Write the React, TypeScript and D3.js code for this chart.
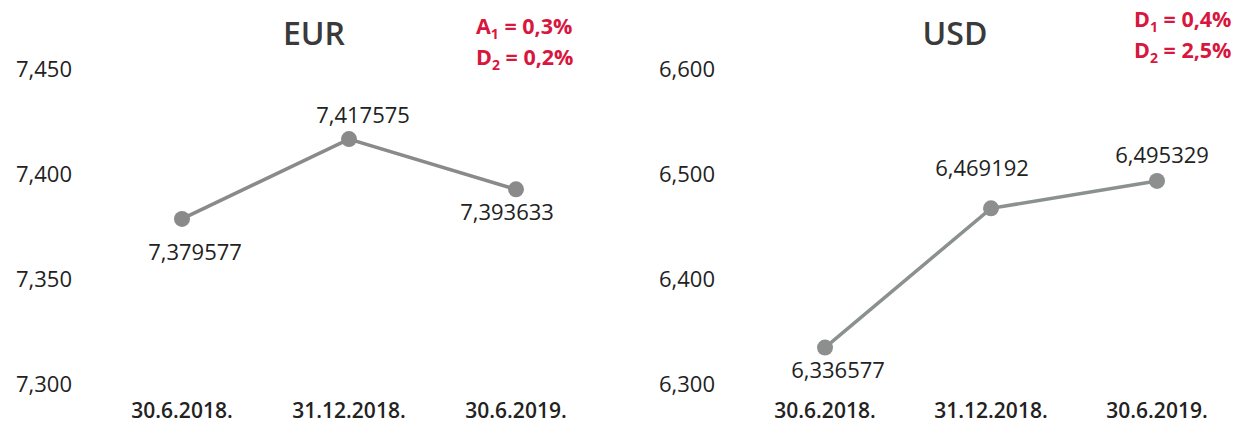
import React from "react";
import * as d3 from "d3";

const categories = ["30.6.2018.", "31.12.2018.", "30.6.2019."];
const eurValues = [7.379577, 7.417575, 7.393633];
const usdValues = [6.336577, 6.469192, 6.495329];
const eurTicks = [7.3, 7.35, 7.4, 7.45];
const usdTicks = [6.3, 6.4, 6.5, 6.6];
const eurNotes = [
  { letter: "A", sub: "1", text: " = 0,3%" },
  { letter: "D", sub: "2", text: " = 0,2%" },
];
const usdNotes = [
  { letter: "D", sub: "1", text: " = 0,4%" },
  { letter: "D", sub: "2", text: " = 2,5%" },
];

// label placements (styling): dx, dy relative to point
const eurLabelOffsets = [
  [13, 35],
  [14, -22],
  [-9, 25],
];
const usdLabelOffsets = [
  [13, 25],
  [-9, -38],
  [5, -24],
];

const FONT = "'Open Sans', 'Noto Sans', sans-serif";
const fmt = (v: number, d: number) => v.toFixed(d).replace(".", ",");

type PanelProps = {
  title: string;
  values: number[];
  ticks: number[];
  domain: [number, number];
  xRange: [number, number];
  tickX: number;
  titleX: number;
  notesX: number;
  notesY: number;
  notes: { letter: string; sub: string; text: string }[];
  offsets: number[][];
  lineColor: string;
  dotColor: string;
};

function Panel(p: PanelProps) {
  const x = d3.scalePoint<string>().domain(categories).range(p.xRange);
  const y = d3.scaleLinear().domain(p.domain).range([386, 71]);
  const line = d3
    .line<number>()
    .x((_, i) => x(categories[i]) as number)
    .y((d) => y(d));
  return (
    <g>
      <text
        x={p.titleX}
        y={36}
        textAnchor="middle"
        dominantBaseline="middle"
        fontFamily={FONT}
        fontSize={32}
        fontWeight={600}
        fill="#3a3a3a"
      >
        {p.title}
      </text>
      {p.notes.map((n, i) => (
        <text
          key={i}
          x={p.notesX}
          y={p.notesY + i * 31}
          fontFamily={FONT}
          fontSize={21.5}
          fontWeight={700}
          fill="#D8163E"
        >
          {n.letter}
          <tspan fontSize={14} dy={5}>
            {n.sub}
          </tspan>
          <tspan dy={-5}>{n.text}</tspan>
        </text>
      ))}
      {p.ticks.map((t) => (
        <text
          key={t}
          x={p.tickX}
          y={y(t)}
          textAnchor="end"
          dominantBaseline="middle"
          fontFamily={FONT}
          fontSize={22}
          fontWeight={500}
          fill="#222"
        >
          {fmt(t, 3)}
        </text>
      ))}
      {categories.map((c) => (
        <text
          key={c}
          x={x(c)}
          y={412}
          textAnchor="middle"
          dominantBaseline="middle"
          fontFamily={FONT}
          fontSize={21}
          fontWeight={600}
          fill="#222"
        >
          {c}
        </text>
      ))}
      <path d={line(p.values) || ""} fill="none" stroke={p.lineColor} strokeWidth={3.5} />
      {p.values.map((v, i) => (
        <circle key={i} cx={x(categories[i])} cy={y(v)} r={8} fill={p.dotColor} />
      ))}
      {p.values.map((v, i) => (
        <text
          key={"l" + i}
          x={(x(categories[i]) as number) + p.offsets[i][0]}
          y={y(v) + p.offsets[i][1]}
          textAnchor="middle"
          dominantBaseline="middle"
          fontFamily={FONT}
          fontSize={22}
          fontWeight={500}
          fill="#222"
        >
          {fmt(v, 6)}
        </text>
      ))}
    </g>
  );
}

export default function App() {
  return (
    <svg
      width={1241}
      height={426}
      style={{ position: "absolute", left: 0, top: 0, background: "#fff" }}
    >
      <rect width={1241} height={426} fill="#fff" />
      <Panel
        title="EUR"
        values={eurValues}
        ticks={eurTicks}
        domain={[7.3, 7.45]}
        xRange={[182, 516]}
        tickX={72}
        titleX={314}
        notesX={476}
        notesY={34}
        notes={eurNotes}
        offsets={eurLabelOffsets}
        lineColor="#8a8a8a"
        dotColor="#8a8a8a"
      />
      <Panel
        title="USD"
        values={usdValues}
        ticks={usdTicks}
        domain={[6.3, 6.6]}
        xRange={[825, 1157]}
        tickX={715}
        titleX={955}
        notesX={1134}
        notesY={27}
        notes={usdNotes}
        offsets={usdLabelOffsets}
        lineColor="#8a918e"
        dotColor="#8c8f8e"
      />
    </svg>
  );
}
